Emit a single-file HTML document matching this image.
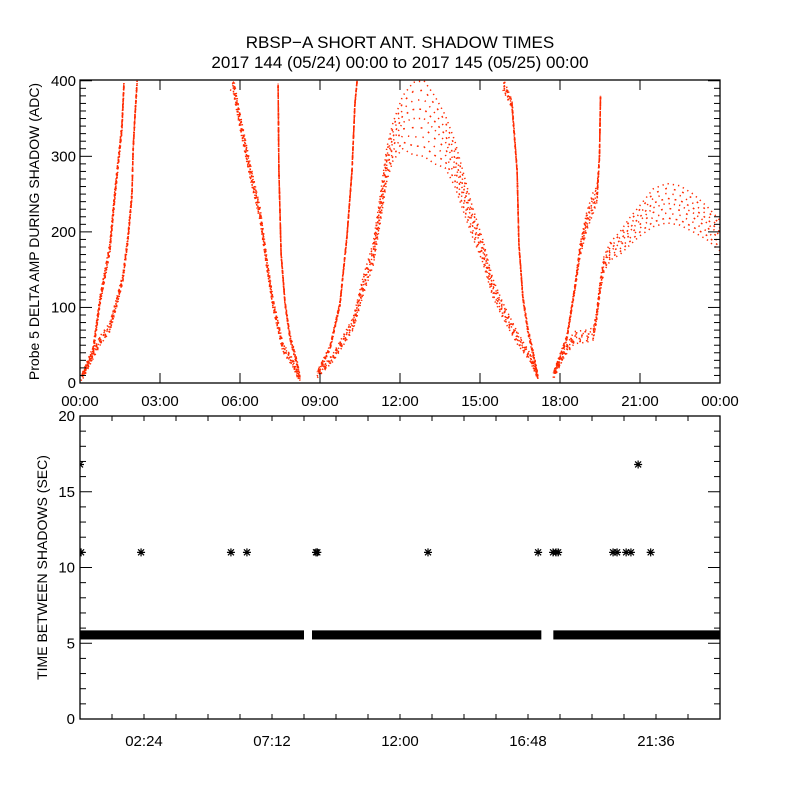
<!DOCTYPE html>
<html><head><meta charset="utf-8"><style>
body{margin:0;background:#fff}
svg{display:block;font-family:"Liberation Sans",sans-serif}
</style></head><body>
<svg id="c" width="800" height="800" viewBox="0 0 800 800">
<rect width="800" height="800" fill="#fff"/>
<text x="400" y="48" font-size="17" text-anchor="middle">RBSP−A SHORT ANT. SHADOW TIMES</text>
<text x="400" y="68" font-size="17" text-anchor="middle">2017 144 (05/24) 00:00 to 2017 145 (05/25) 00:00</text>
<g id="topPanel"></g>
<g id="botPanel"></g>
</svg>
<script>
// ---- top panel data (hours, center value, half spread) ----
const brA_h=[0.04,0.49,0.75,1.12,1.31,1.57,1.65];
const brA_v=[6,43,109,179,250,338,397];
const brA_w=[3,5,6,7,7,6,5];
const brB_h=[0.11,0.75,1.12,1.39,1.61,1.8,1.95,1.99,2.06,2.14];
const brB_v=[10,56,74,109,139,192,250,308,352,398];
const brB_w=[4,6,6,6,5,5,5,4,4,4];
const brC_h=[5.63,5.74,6.0,6.38,6.75,7.01,7.24,7.61,7.99,8.21];
const brC_v=[398,396,347,281,224,158,105,47,26,6];
const brC_w=[10,10,10,10,9,8,7,6,5,3];
const brD_h=[7.43,7.46,7.54,7.69,7.88,8.14,8.25];
const brD_v=[396,281,171,105,60,26,6];
const brD_w=[1,1,2,3,4,4,3];
const brE_h=[8.89,9.38,9.75,10.01,10.2,10.31,10.39];
const brE_v=[12,47,105,193,281,369,400];
const brE_w=[3,3,3,2,2,2,1];
const brF_h=[8.9,9.5,10.25,10.64,11.0,11.25,11.51,11.74,12.1,12.5,12.9,13.3,13.69,14.06,14.4,14.7,15.1,15.48,15.86,16.39,16.88,17.18];
const brF_v=[10,34,79,131,171,228,290,320,345,350,350,335,320,290,250,215,175,126,96,60,34,7];
const brF_w=[3,5,8,12,15,18,22,25,35,48,50,45,35,30,25,20,15,12,10,8,5,3];
const brG_h=[15.86,16.2,16.39,16.46,16.61,16.8,16.99,17.18];
const brG_v=[396,369,281,184,113,69,39,7];
const brG_w=[8,5,2,2,3,4,4,3];
const brH_h=[17.74,18.26,18.56,18.75,19.01,19.24,19.39,19.48,19.52];
const brH_v=[10,60,126,175,215,238,250,300,380];
const brH_w=[3,3,4,8,12,14,10,2,1];
const brI_h=[17.78,18.15,18.53,19.0,19.25,19.37,19.5,19.65,19.9,20.25,20.6,21.0,21.5,22.0,22.5,23.0,23.5,24.0];
const brI_v=[10,39,60,62,65,87,126,158,175,185,200,215,232,238,235,225,212,195];
const brI_w=[3,5,8,8,8,6,8,10,12,15,18,20,25,26,26,25,22,20];
const branches=[[brA_h,brA_v,brA_w],[brB_h,brB_v,brB_w],[brC_h,brC_v,brC_w],[brD_h,brD_v,brD_w],[brE_h,brE_v,brE_w],[brF_h,brF_v,brF_w],[brG_h,brG_v,brG_w],[brH_h,brH_v,brH_w],[brI_h,brI_v,brI_w]];
const topXTicks=["00:00","03:00","06:00","09:00","12:00","15:00","18:00","21:00","00:00"];
const topYTicks=[0,100,200,300,400];
// ---- bottom panel data ----
const bandStart=[0,8.7,17.75];
const bandEnd=[8.4,17.3,24];
const bandLo=[5.25,5.25,5.25];
const bandHi=[5.85,5.85,5.85];
const starH=[0.04,2.29,5.66,6.26,8.85,8.9,13.05,17.18,17.74,17.85,17.93,19.99,20.14,20.48,20.66,21.4,0.0,20.93];
const starV=[11,11,11,11,11,11,11,11,11,11,11,11,11,11,11,11,16.8,16.8];
const botXTicks=["02:24","07:12","12:00","16:48","21:36"];
const botXTickH=[2.4,7.2,12,16.8,21.6];
const botYTicks=[0,5,10,15,20];

const NS="http://www.w3.org/2000/svg";
function mk(parent,tag,attrs){const e=document.createElementNS(NS,tag);for(const k in attrs)e.setAttribute(k,attrs[k]);parent.appendChild(e);return e;}
const L=80,R=720;
const xs=h=>L+h*(R-L)/24;
const T1=80,B1=383,YMAX1=401;
const ys1=v=>B1-v*(B1-T1)/YMAX1;
const T2=416,B2=719;
const ys2=v=>B2-v*(B2-T2)/20;

const topG=document.getElementById('topPanel');
const clip=mk(topG,'clipPath',{id:'cl1'});mk(clip,'rect',{x:L,y:T1,width:R-L,height:B1-T1});
const dots=mk(topG,'g',{'clip-path':'url(#cl1)'});


const fr=[-1,-0.75,-0.5,-0.25,0,0.25,0.5,0.75,1];
branches.forEach((b,bi)=>{
  const [hh,vv,ww]=b;
  fr.forEach((f,fi)=>{
    let d='';
    for(let i=0;i<hh.length;i++){d+=(i?'L':'M')+xs(hh[i]).toFixed(1)+' '+ys1(vv[i]+f*ww[i]).toFixed(1);}
    const p=mk(dots,'path',{d:d,fill:'none',stroke:'#ff2a00','stroke-width':1.5,'stroke-dasharray':(1.3+(fi%2)*0.5)+' '+(4+fi%4),'stroke-dashoffset':fi*2.1});
    
    
  });
});
const f1=mk(topG,'rect',{x:L,y:T1,width:R-L,height:B1-T1,fill:'none',stroke:'#000','stroke-width':1.3});


for(let v=0;v<=400;v+=10){const len=v%100===0?12:6;
  mk(topG,'line',{x1:L,x2:L+len,y1:ys1(v),y2:ys1(v),stroke:'#000'});
  mk(topG,'line',{x1:R,x2:R-len,y1:ys1(v),y2:ys1(v),stroke:'#000'});}
topYTicks.forEach(v=>{const t=mk(topG,'text',{x:L-4,y:ys1(v)+5,'font-size':15,'text-anchor':'end'});t.textContent=v;
  
  });
topXTicks.forEach((s,i)=>{const x=xs(i*3);
  mk(topG,'line',{x1:x,x2:x,y1:B1,y2:B1-10,stroke:'#000'});
  mk(topG,'line',{x1:x,x2:x,y1:T1,y2:T1+10,stroke:'#000'});
  const t=mk(topG,'text',{x:x,y:B1+23,'font-size':15,'text-anchor':'middle'});t.textContent=s;
  
  });
const yt1=mk(topG,'text',{x:0,y:0,'font-size':14,'text-anchor':'middle',transform:'translate(39,'+((T1+B1)/2)+') rotate(-90)'});
yt1.textContent='Probe 5 DELTA AMP DURING SHADOW (ADC)';



const botG=document.getElementById('botPanel');
bandStart.forEach((s,i)=>{const r=mk(botG,'rect',{x:xs(s),y:ys2(bandHi[i]),width:xs(bandEnd[i])-xs(s),height:ys2(bandLo[i])-ys2(bandHi[i]),fill:'#000'});
  
  });
const clip2=mk(botG,'clipPath',{id:'cl2'});mk(clip2,'rect',{x:L,y:T2,width:R-L,height:B2-T2});
const sg=mk(botG,'g',{'clip-path':'url(#cl2)'});
starH.forEach((h,i)=>{const x=xs(h),y=ys2(starV[i]);
  const p=mk(sg,'path',{d:`M${x-4} ${y}H${x+4}M${x} ${y-4}V${y+4}M${x-3} ${y-3}L${x+3} ${y+3}M${x-3} ${y+3}L${x+3} ${y-3}`,stroke:'#000','stroke-width':1.2});
  
  });
const f2=mk(botG,'rect',{x:L,y:T2,width:R-L,height:B2-T2,fill:'none',stroke:'#000','stroke-width':1.3});


for(let v=0;v<=20;v++){const len=v%5===0?12:6;
  mk(botG,'line',{x1:L,x2:L+len,y1:ys2(v),y2:ys2(v),stroke:'#000'});
  mk(botG,'line',{x1:R,x2:R-len,y1:ys2(v),y2:ys2(v),stroke:'#000'});}
botYTicks.forEach(v=>{const t=mk(botG,'text',{x:L-5,y:ys2(v)+5,'font-size':15,'text-anchor':'end'});t.textContent=v;
  
  });
for(let h=0;h<=24.01;h+=1.2){const x=xs(h);
  mk(botG,'line',{x1:x,x2:x,y1:B2,y2:B2-5,stroke:'#000'});
  mk(botG,'line',{x1:x,x2:x,y1:T2,y2:T2+5,stroke:'#000'});}
botXTicks.forEach((s,i)=>{const t=mk(botG,'text',{x:xs(botXTickH[i]),y:B2+27,'font-size':15,'text-anchor':'middle'});t.textContent=s;
  
  });
const yt2=mk(botG,'text',{x:0,y:0,'font-size':14,'text-anchor':'middle',transform:'translate(47,'+((T2+B2)/2)+') rotate(-90)'});
yt2.textContent='TIME BETWEEN SHADOWS (SEC)';


</script>
</body></html>
